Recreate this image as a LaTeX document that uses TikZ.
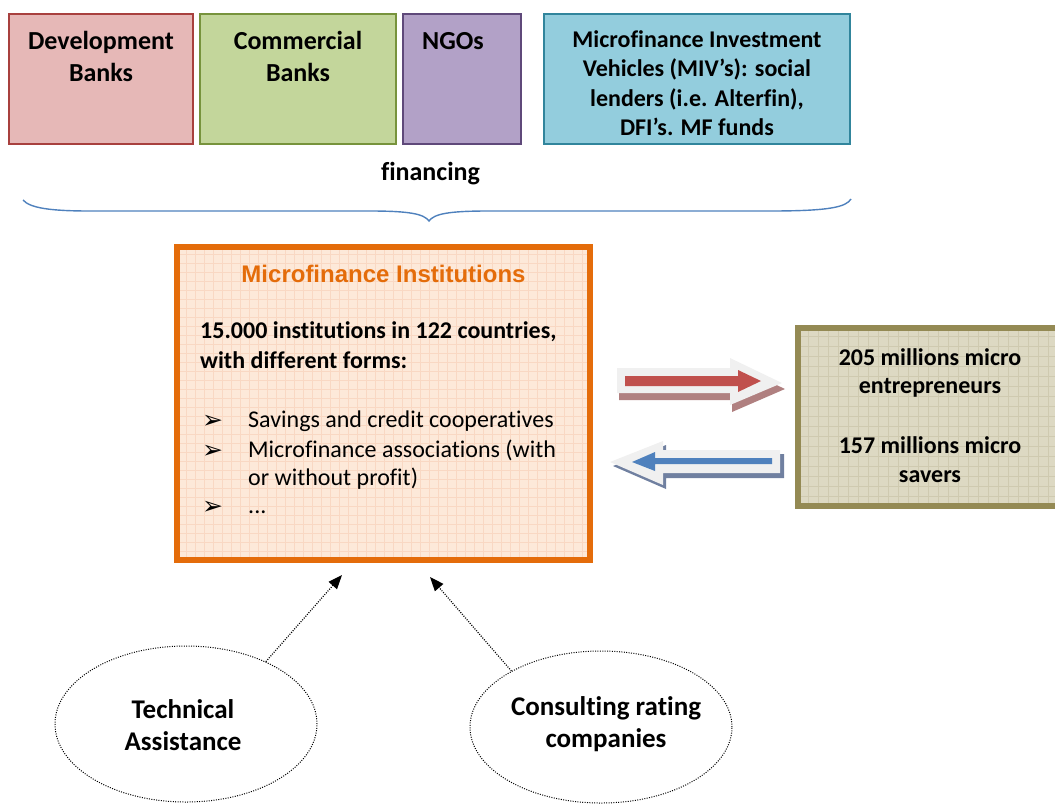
\documentclass[tikz,border=0pt]{standalone}
\usepackage{fontspec}
\setmainfont{Carlito}[Ligatures=NoCommon]
\newfontfamily\arialfont{Liberation Sans}
\newfontfamily\dejavu{DejaVu Sans}
\usetikzlibrary{shapes.geometric,arrows.meta}
\definecolor{devfill}{HTML}{E6B8B7}
\definecolor{devline}{HTML}{A8403E}
\definecolor{comfill}{HTML}{C3D69B}
\definecolor{comline}{HTML}{77933C}
\definecolor{ngofill}{HTML}{B2A1C7}
\definecolor{ngoline}{HTML}{5F497A}
\definecolor{mivfill}{HTML}{93CDDD}
\definecolor{mivline}{HTML}{31859C}
\definecolor{mfiline}{HTML}{E46C0A}
\definecolor{mfifill}{HTML}{FDE9D9}
\definecolor{mfigrid}{HTML}{F9D8C3}
\definecolor{clline}{HTML}{948A54}
\definecolor{clfill}{HTML}{DDD9C3}
\definecolor{clgrid}{HTML}{CFCAB0}
\definecolor{bracecol}{HTML}{4F81BD}
\definecolor{redarr}{HTML}{C0504D}
\definecolor{bluearr}{HTML}{4F81BD}
\definecolor{bevel}{HTML}{F0F0F0}
\definecolor{redsh}{HTML}{B08080}
\definecolor{bluesh}{HTML}{7080A0}
\tikzset{
  topbox/.style={draw=#1line, fill=#1fill, line width=1.5pt, inner sep=0pt, minimum height=130pt},
  btxtA/.style={font=\bfseries\fontsize{26pt}{31pt}\selectfont, inner sep=0pt, anchor=base},
  btxtB/.style={font=\bfseries\fontsize{24pt}{29pt}\selectfont, inner sep=0pt, anchor=base},
  rtxt/.style={font=\fontsize{24pt}{29pt}\selectfont, inner sep=0pt, anchor=base west},
  bultxt/.style={font=\dejavu\fontsize{25pt}{29pt}\selectfont, inner sep=0pt, anchor=base west},
  etxt/.style={font=\bfseries\fontsize{27pt}{32pt}\selectfont, inner sep=0pt, anchor=base},
  cloud/.style={ellipse, draw=black, dash pattern=on 1pt off 1.4pt, line width=1pt, inner sep=0pt},
  helper/.style={->, dash pattern=on 1pt off 1.4pt, line width=1.2pt, >={Triangle[length=14pt,width=11pt]}},
}
\begin{document}
\begin{tikzpicture}[x=1pt,y=-1pt]
\useasboundingbox (0,0) rectangle (1055,804);

% top boxes
\node[topbox=dev, minimum width=184pt] (dev) at (101,79) {};
\node[topbox=com, minimum width=196pt] (com) at (298,79) {};
\node[topbox=ngo, minimum width=118pt] (ngo) at (462,79) {};
\node[topbox=miv, minimum width=306pt] (miv) at (697,79) {};
\node[btxtA] (dev1) at (101,49) {Development};
\node[btxtA] (dev2) at (101,81) {Banks};
\node[btxtA] (com1) at (298,49) {Commercial};
\node[btxtA] (com2) at (298,81) {Banks};
\node[btxtA] (ngo1) at (453,49) {NGOs};
\node[btxtB] (miv1) at (697,47) {Microfinance Investment};
\node[btxtB] (miv2) at (697,76) {Vehicles (MIV’s): social};
\node[btxtB] (miv3) at (697,106) {lenders (i.e. Alterfin),};
\node[btxtB] (miv4) at (697,135) {DFI’s. MF funds};
\node[btxtA] (fin) at (430.5,180) {financing};

% brace
\draw[bracecol, line width=1.4pt]
  (23,200) .. controls (30,208) and (50,211) .. (90,211) -- (370,211)
  .. controls (410,211) and (424,214) .. (429,221)
  .. controls (434,214) and (448,211) .. (488,211) -- (770,211)
  .. controls (830,211) and (846,207) .. (851,199);

% MFI box
\node[draw=mfiline, fill=mfifill, line width=6pt, inner sep=0pt,
      minimum width=413pt, minimum height=313pt,
      path picture={
        \foreach \i in {0,9,...,414} {
          \draw[mfigrid, line width=0.4pt] ([xshift=\i pt]path picture bounding box.south west) -- ([xshift=\i pt]path picture bounding box.north west);
        }
        \foreach \i in {0,9,...,314} {
          \draw[mfigrid, line width=0.4pt] ([yshift=\i pt]path picture bounding box.south west) -- ([yshift=\i pt]path picture bounding box.south east);
        }
      }] (mfi) at (383.5,403.5) {};
\node[font=\arialfont\bfseries\fontsize{24pt}{29pt}\selectfont, text=mfiline, inner sep=0pt, anchor=base] (mfit) at (383.5,282) {Microfinance Institutions};
\node[btxtB, anchor=base west] (mfa) at (200,338) {15.000 institutions in 122 countries,};
\node[btxtB, anchor=base west] (mfb) at (200,368) {with different forms:};
\node[bultxt] (b1) at (202,428) {➢};
\node[bultxt] (b2) at (202,458) {➢};
\node[bultxt] (b3) at (202,514) {➢};
\node[rtxt] (l1) at (248,427) {Savings and credit cooperatives};
\node[rtxt] (l2) at (248,457) {Microfinance associations (with};
\node[rtxt] (l3) at (248,485) {or without profit)};
\node[rtxt] (l4) at (248,513) {...};

% clients box
\node[draw=clline, fill=clfill, line width=6pt, inner sep=0pt,
      minimum width=264pt, minimum height=178pt,
      path picture={
        \foreach \i in {0,10,...,264} {
          \draw[clgrid, line width=0.4pt] ([xshift=\i pt]path picture bounding box.south west) -- ([xshift=\i pt]path picture bounding box.north west);
        }
        \foreach \i in {0,10,...,178} {
          \draw[clgrid, line width=0.4pt] ([yshift=\i pt]path picture bounding box.south west) -- ([yshift=\i pt]path picture bounding box.south east);
        }
      }] (cl) at (930,417) {};
\node[btxtB] (c1) at (930,365) {205 millions micro};
\node[btxtB] (c2) at (930,393) {entrepreneurs};
\node[btxtB] (c3) at (930,453) {157 millions micro};
\node[btxtB] (c4) at (930,482) {savers};

% red block arrow (to clients)
\fill[redsh] (619,374)--(732,374)--(732,364)--(785,389)--(732,412)--(732,400)--(619,400)--cycle;
\fill[bevel] (617,368)--(730,368)--(730,358)--(782,383)--(730,405)--(730,393)--(617,393)--cycle;
\fill[redarr] (625,376)--(738,376)--(738,370)--(761,381)--(738,392)--(738,386)--(625,386)--cycle;

% blue block arrow (from clients)
\fill[bluesh] (613,466)--(666,445)--(666,454)--(784,454)--(784,478)--(666,478)--(666,489)--cycle;
\fill[bevel] (610,462)--(663,441)--(663,450)--(780,450)--(780,473)--(663,473)--(663,485)--cycle;
\fill[bluearr] (632,462)--(655,452)--(655,458)--(772,458)--(772,464)--(655,464)--(655,471)--cycle;

% support ellipses
\node[cloud, minimum width=262pt, minimum height=156pt] (ta) at (186,724) {};
\node[cloud, minimum width=262pt, minimum height=152pt] (cr) at (601,727) {};
\node[etxt] (ta1) at (183,718) {Technical};
\node[etxt] (ta2) at (183,750) {Assistance};
\node[etxt] (cr1) at (606,715) {Consulting rating};
\node[etxt] (cr2) at (606,747) {companies};

\coordinate (tip1) at (342,575);
\coordinate (tip2) at (430,577);
\draw[helper] (ta.38) -- (tip1);
\draw[helper] (cr.148) -- (tip2);
\end{tikzpicture}
\end{document}
